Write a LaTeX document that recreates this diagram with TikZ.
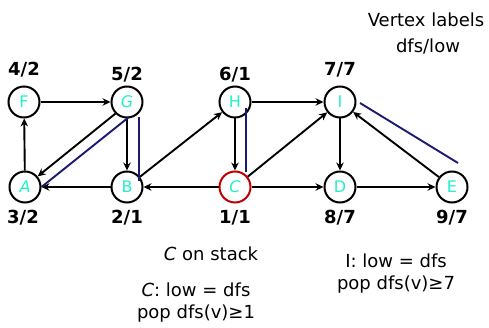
\documentclass[tikz,border=0pt]{standalone}
\usepackage{fontspec}
\setmainfont{DejaVu Sans}
\usetikzlibrary{arrows.meta}
\definecolor{lettc}{HTML}{22F0C8}
\definecolor{navyl}{HTML}{1A1A6E}
\definecolor{redc}{HTML}{C00000}
\begin{document}
\begin{tikzpicture}[x=1pt,y=-1pt,
  vtx/.style={circle,draw=black,line width=2pt,minimum size=31pt,inner sep=0pt,text=lettc,font=\fontsize{16}{18}\selectfont},
  arr/.style={-{Stealth[length=8pt,width=7.5pt]},line width=1.9pt},
  blu/.style={navyl,line width=1.9pt},
  num/.style={font=\fontsize{18}{20}\selectfont\bfseries},
  txt/.style={font=\fontsize{18}{22}\selectfont,align=center}]
\useasboundingbox (0,0) rectangle (489,328);
\node[vtx] (F) at (24,102) {F};
\node[vtx] (G) at (127,102) {\itshape G};
\node[vtx] (H) at (235,102) {H};
\node[vtx] (I) at (340,102) {I};
\node[vtx] (A) at (25,187) {\itshape A};
\node[vtx] (B) at (127,187) {B};
\node[vtx,draw=redc] (C) at (235,187) {\itshape C};
\node[vtx] (D) at (340,187) {D};
\node[vtx] (E) at (452,187) {E};
\node[num] (lF) at (24,70) {4/2};
\node[num] (lG) at (127,75) {5/2};
\node[num] (lH) at (235,75) {6/1};
\node[num] (lI) at (340,70) {7/7};
\node[num] (lA) at (23,218) {3/2};
\node[num] (lB) at (127,218) {2/1};
\node[num] (lC) at (235,218) {1/1};
\node[num] (lD) at (340,218) {8/7};
\node[num] (lE) at (452,218) {9/7};
\draw[arr] (F) -- (G);
\draw[arr] (A) -- (F);
\draw[arr] (G.225) -- (A.40);
\draw[arr] (G) -- (B);
\draw[arr] (B) -- (A);
\draw[arr] (B) -- (H);
\draw[arr] (C) -- (B);
\draw[arr] (H) -- (C);
\draw[arr] (H) -- (I);
\draw[arr] (C) -- (I);
\draw[arr] (C) -- (D);
\draw[arr] (I) -- (D);
\draw[arr] (D) -- (E);
\draw[arr] (E) -- (I);
\coordinate (bg1) at (129,117);
\coordinate (bg2) at (139,117);
\coordinate (bb2) at (139,181);
\coordinate (bh1) at (246,108);
\coordinate (bc1) at (246,172);
\coordinate (bi1) at (360,103);
\coordinate (be1) at (458,163);
\draw[blu] (A.east) -- (bg1);
\draw[blu] (bg2) -- (bb2);
\draw[blu] (bh1) -- (bc1);
\draw[blu] (bi1) -- (be1);
\node[txt,anchor=base] (t1) at (426,27) {Vertex labels};
\node[txt,anchor=base] (t1b) at (428,53) {dfs/low};
\node[txt,anchor=base] (t2) at (211,260) {\itshape C\upshape{} on stack};
\node[txt,anchor=base] (t3) at (196,296) {\itshape C\upshape: low = dfs};
\node[txt,anchor=base] (t3b) at (196,318) {pop dfs(v)≥1};
\node[txt,anchor=base] (t4) at (396,267) {I: low = dfs};
\node[txt,anchor=base] (t4b) at (396,289) {pop dfs(v)≥7};
\end{tikzpicture}
\end{document}
